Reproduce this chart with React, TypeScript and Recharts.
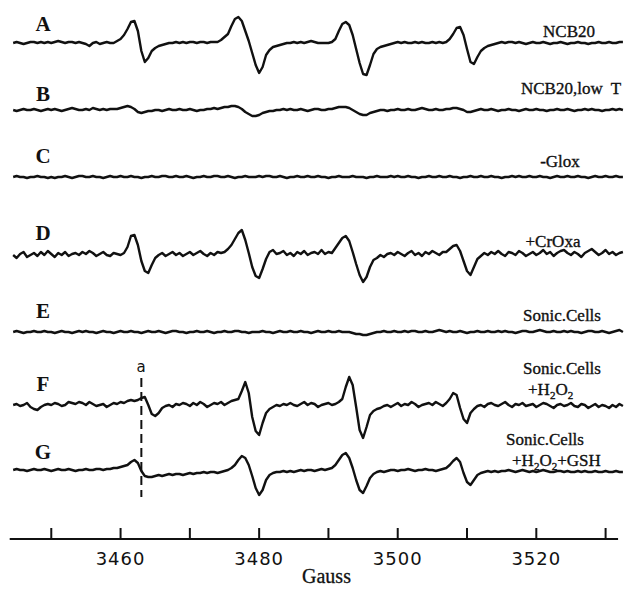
import { ComposedChart, Line, XAxis, YAxis, ReferenceLine } from "recharts";

// field sweep: 3444.5 G .. 3532.5 G, every 0.5 G (177 points)
const FIELD_START = 3444.5;
const FIELD_STEP = 0.5;

// ESR amplitude (px units, up = positive), 10 samples per 5 G
const TRACE_A = [
  0, 1, 0, -1, 0, 1, 1, 0, 1, 0,
  1, 0, 1, 2, 1, 0, 1, 1, 0, 1,
  0, -1, -3, 0, 1, -1, 0, 1, 0, 0,
  2, 4, 8, 14, 21, 22, 12, -8, -19, -15,
  -8, -5, -3, -2, -1, 0, 0, 1, 0, 1,
  0, 1, 1, 0, 1, 1, 0, 1, 1, 1,
  3, 6, 9, 17, 24, 26, 22, 12, 2, -10,
  -22, -30, -24, -12, -7, -4, -3, -2, -1, 0,
  0, 1, 0, 1, 0, 1, 2, 1, 0, 0,
  0, 0, 1, 4, 12, 19, 21, 18, 8, -6,
  -20, -31, -32, -22, -11, -6, -4, -3, -2, -1,
  0, 1, 0, 1, 0, 0, 1, 0, 1, 0,
  0, 1, 0, 1, 0, 1, 4, 9, 15, 16,
  8, -6, -19, -21, -14, -8, -5, -3, -2, -1,
  0, 1, 0, 1, 1, 0, 1, 0, -1, 0,
  1, 0, 0, 1, 0, -1, 0, 0, 1, 0,
  -1, 0, 0, 1, 0, 0, -1, 0, 0, 1,
  0, 0, 1, 0, 0, 1, 1,
];

const TRACE_B = [
  0, -1, 0, 1, 0, 0, 1, 0, -1, 0,
  1, 0, 1, 0, -1, 0, 1, 2, 1, 0,
  0, 1, 0, 2, 1, 0, 1, 0, 1, 1,
  1, 2, 3, 4, 3, 1, -2, -3, -2, -1,
  -1, 0, 0, -1, 0, 1, 0, 0, 1, 0,
  0, 1, 0, -1, 0, 0, 1, 1, 2, 1,
  2, 3, 3, 4, 4, 3, 1, -2, -4, -6,
  -6, -5, -3, -2, -1, -1, 0, 0, 1, 0,
  1, 0, 0, 1, 0, -1, 0, 1, 1, 0,
  0, 1, 1, 2, 3, 3, 3, 2, 0, -2,
  -4, -5, -5, -3, -2, -1, 0, 0, -1, 0,
  0, 1, 0, 0, 1, 0, 0, 1, 2, 1,
  0, 0, 1, 0, 0, 1, 1, 2, 2, 1,
  0, -2, -2, -1, 0, 1, 0, 0, 1, 0,
  -1, 0, 0, 1, 0, 0, -1, 0, 1, 0,
  0, 1, 0, 0, -1, 0, 0, 1, 0, 0,
  1, 0, -1, 0, 0, 1, 0, 1, 0, 0,
  -1, 0, 0, 1, 0, 1, 0,
];

const TRACE_C = [
  0, 1, 0, 0, -1, 0, 0, 1, 0, 0,
  -1, 0, -1, 0, 0, 1, 0, -1, 0, 1,
  1, 0, 0, 1, 0, 0, -1, 0, 1, 0,
  0, 1, 0, 0, 1, 0, 0, -1, 0, 0,
  1, 0, 0, 1, 1, 0, 0, 1, 0, 0,
  1, 0, -1, 0, 0, 1, 0, 0, 1, 1,
  0, 0, 1, 0, -1, 0, 0, 1, 0, 0,
  0, 1, 0, 1, 1, 0, 0, 1, 0, -1,
  0, 0, 1, 0, 0, 1, 0, 0, 1, 0,
  0, -1, 0, 0, 1, 0, 0, 0, 1, 0,
  0, 0, -1, 0, 0, 1, 0, 0, 0, 1,
  0, 1, 0, 0, 1, 0, 0, -1, 0, 0,
  1, 0, 0, 1, 0, 0, 1, 0, 0, -1,
  0, 0, 1, 0, 0, 1, 0, 0, 1, 0,
  0, -1, 0, 0, 1, 0, 1, 0, 0, 1,
  0, 0, 1, 0, 0, -1, 0, 1, 0, 0,
  1, 0, 0, 1, 0, 0, -1, 0, 1, 0,
  0, 1, 0, 0, 1, 0, 0,
];

const TRACE_D = [
  0, -3, 1, 3, -2, 0, 2, -1, 3, 0,
  4, 1, -2, 2, 0, 3, -1, 1, 2, 0,
  3, 1, 4, 2, -1, 1, 3, 0, -1, 2,
  1, 0, 2, 8, 19, 20, 10, -6, -16, -18,
  -10, -3, 0, 2, -1, 1, 3, 0, 2, -1,
  1, 3, 0, 2, 4, 1, -1, 2, 0, 3,
  2, 3, 6, 10, 16, 22, 25, 15, 2, -12,
  -21, -23, -14, -4, 3, 5, 1, 2, 4, 0,
  2, -1, 3, 1, 4, 0, 2, 3, 1, 5,
  1, 3, 2, 7, 12, 17, 19, 14, 3, -9,
  -20, -27, -22, -12, -5, -3, 0, -2, 1, 2,
  0, 3, 1, -1, 2, 4, 0, 2, -1, 3,
  1, 4, 2, 0, 3, 3, 6, 9, 10, 4,
  -6, -16, -20, -12, -4, -1, 2, 0, 3, 1,
  4, 1, -1, 3, 2, 0, 4, 2, -1, 1,
  3, 0, 2, 5, 1, 3, -1, 2, 4, 5,
  2, 0, 3, 1, -2, 2, 4, 6, 3, 0,
  2, 5, 1, 3, 0, 2, 3,
];

const TRACE_E = [
  0, 1, 0, -1, 0, 0, 1, 0, 0, 1,
  0, 0, -1, 0, 1, 0, 0, -1, 0, 1,
  0, 1, 0, 0, -1, 0, 1, 0, 0, -1,
  0, 1, 0, 0, 1, 0, 0, -1, 0, 1,
  0, 0, 1, 0, -1, 0, 1, 1, 0, 0,
  -1, 0, 0, 1, 0, 0, 1, 0, -1, 0,
  0, 1, 0, 0, 1, 1, 0, 0, -1, 0,
  0, 0, 1, 0, 0, -1, 0, 1, 0, 0,
  1, 0, 0, 1, 0, 0, -1, 0, 1, 0,
  0, 1, 0, 0, 1, 0, 0, 0, -1, -2,
  -2, -3, -3, -2, -1, 0, 0, 1, 0, 0,
  1, 0, 0, 1, 0, 1, 1, 0, 0, 1,
  0, 0, 1, 2, 1, 0, 1, 0, 0, 1,
  0, -1, 0, 0, 1, 0, 0, 1, 0, 0,
  1, 0, 1, 0, 0, -1, 0, 1, 1, 0,
  0, 1, 2, 1, 0, 0, 1, 0, 0, 1,
  0, 1, 0, 0, -1, 0, 1, 1, 0, 0,
  1, 0, -1, 0, 1, 2, 0,
];

const TRACE_F = [
  0, 1, -1, 0, 2, -2, -4, -5, -2, 0,
  1, 0, 2, 1, -1, 0, 3, 2, 1, 3,
  2, 0, 3, 1, -1, 0, 1, -2, 0, 2,
  1, 3, 2, 4, 5, 4, 5, 7, 8, 0,
  -9, -11, -8, -3, -1, 0, -2, 1, 0, 2,
  1, -1, 2, 0, 3, 1, -2, 0, 2, 1,
  3, 0, 2, 4, 5, 6, 14, 23, 12, -12,
  -26, -30, -18, -8, -4, -2, 0, -1, 1, 0,
  2, 0, -1, 1, 3, 0, 2, 1, -2, 0,
  1, 2, 0, 1, 3, 6, 18, 28, 20, -2,
  -25, -33, -22, -10, -6, -4, -3, -1, 0, -2,
  0, 2, -1, 1, 0, 3, 1, -2, 0, 1,
  2, 0, 3, 1, -1, 2, 6, 12, 10, -3,
  -14, -18, -8, -4, -1, 0, -2, 1, 2, 0,
  -1, 1, 3, 0, -2, 1, 0, 2, -1, 0,
  1, -2, 0, 2, 1, -1, -3, 0, 1, -1,
  0, 2, -1, -2, 1, 0, -3, -1, 1, -2,
  0, -1, -3, 0, -2, 1, -1,
];

const TRACE_G = [
  0, 1, 0, 0, -1, 0, 1, 0, 0, 1,
  0, -1, 0, 1, 0, 0, 1, 0, -1, 0,
  0, 1, 0, 0, 1, 1, 0, 1, 1, 2,
  2, 3, 4, 5, 8, 10, 7, -1, -6, -7,
  -7, -6, -5, -6, -5, -4, -5, -4, -4, -5,
  -4, -3, -4, -3, -3, -2, -3, -2, -2, -3,
  -2, -1, 0, 2, 5, 10, 14, 12, 5, -6,
  -18, -25, -20, -10, -5, -3, -2, -2, -1, -2,
  -1, -2, -1, 0, -1, 0, 0, -1, 0, 1,
  0, 1, 2, 5, 10, 15, 17, 12, 2, -10,
  -20, -23, -16, -8, -4, -2, -1, -2, -1, 0,
  0, -1, 0, 0, 1, 0, -1, 0, 0, 1,
  0, 0, -1, 0, 1, 2, 5, 9, 12, 8,
  -3, -12, -15, -10, -5, -3, -2, -1, -2, -1,
  -2, -1, -1, 0, -1, -2, -1, 0, -1, -2,
  -1, -2, -1, 0, -1, -2, -2, -1, -1, -2,
  -1, -2, -2, -1, -2, -1, -2, -2, -1, -2,
  -2, -1, -2, -2, -1, -2, -2,
];

const SERIES = ["A", "B", "C", "D", "E", "F", "G"];
const TRACES = [TRACE_A, TRACE_B, TRACE_C, TRACE_D, TRACE_E, TRACE_F, TRACE_G];

const TICKS = [3450, 3460, 3470, 3480, 3490, 3500, 3510, 3520, 3530];
const TICK_LABELS = [3460, 3480, 3500, 3520];
const MARKER_A = 3463;

// layout
const W = 625;
const H = 589;
const AXIS_H = 50;
const PLOT_H = H - AXIS_H;
const X_DOMAIN = [3442.6, 3532.8];
const BASELINES = [43, 110, 177, 255, 332, 405, 470]; // px from top, per trace
const LETTER_Y = [31, 101, 163, 240, 318, 391, 459];

const rows = TRACE_A.map((_, i) => {
  const row: any = { g: FIELD_START + i * FIELD_STEP };
  SERIES.forEach((s, k) => {
    row[s] = PLOT_H - BASELINES[k] + TRACES[k][i];
  });
  return row;
});

const serif = "'Liberation Serif', 'Times New Roman', serif";

const GaussTick = ({ x, y, payload }: any) => (
  <g>
    <line x1={x} x2={x} y1={y - 11} y2={y} stroke="#111" strokeWidth={2} />
    {TICK_LABELS.includes(payload.value) && (
      <text
        x={x}
        y={y + 26}
        textAnchor="middle"
        fontFamily="'DejaVu Sans', sans-serif"
        fontSize={18}
        letterSpacing={1}
        fill="#111"
      >
        {payload.value}
      </text>
    )}
  </g>
);

const Sub = ({ children }: any) => (
  <tspan fontSize={11} dy={4}>
    {children}
  </tspan>
);
const Up = ({ children }: any) => <tspan dy={-4}>{children}</tspan>;

export default function App() {
  return (
    <div style={{ position: "absolute", left: 0, top: 0, width: W, height: H, background: "#fff" }}>
      <ComposedChart width={W} height={H} data={rows} margin={{ top: 0, right: 0, left: 0, bottom: 0 }}>
        <XAxis
          dataKey="g"
          type="number"
          domain={X_DOMAIN}
          allowDataOverflow
          ticks={TICKS}
          interval={0}
          height={AXIS_H}
          axisLine={false}
          tickLine={false}
          tickSize={0}
          tickMargin={0}
          tick={<GaussTick />}
          label={{
            value: "Gauss",
            position: "insideBottom",
            offset: 6,
            dx: 14,
            style: { fontFamily: serif, fontSize: 20, fill: "#111", stroke: "#111", strokeWidth: 0.3 },
          }}
        />
        <YAxis hide type="number" domain={[0, PLOT_H]} allowDataOverflow />
        <ReferenceLine
          segment={[{ x: 3444, y: 0 }, { x: 3531.8, y: 0 }]}
          stroke="#111"
          strokeWidth={2.2}
          ifOverflow="visible"
        />
        <ReferenceLine
          segment={[{ x: MARKER_A, y: PLOT_H - 378 }, { x: MARKER_A, y: PLOT_H - 497 }]}
          stroke="#111"
          strokeWidth={2}
          strokeDasharray="9 5"
          ifOverflow="visible"
        />
        {SERIES.map((s) => (
          <Line
            key={s}
            dataKey={s}
            type="linear"
            stroke="#111"
            strokeWidth={2.4}
            strokeLinejoin="round"
            dot={false}
            activeDot={false}
            isAnimationActive={false}
          />
        ))}
      </ComposedChart>

      <svg
        width={W}
        height={H}
        style={{ position: "absolute", left: 0, top: 0, pointerEvents: "none" }}
      >
        <g fontFamily={serif} fontWeight="bold" fontSize={21} fill="#111" textAnchor="middle">
          {SERIES.map((s, k) => (
            <text key={s} x={43} y={LETTER_Y[k]}>
              {s}
            </text>
          ))}
        </g>
        <g fontFamily={serif} fontSize={17} fill="#111" stroke="#111" strokeWidth={0.35}>
          <text x={569} y={37} textAnchor="middle">NCB20</text>
          <text x={521} y={94}>
            NCB20,low<tspan dx={8}>T</tspan>
          </text>
          <text x={560} y={167} textAnchor="middle">-Glox</text>
          <text x={553} y={247} textAnchor="middle">+CrOxa</text>
          <text x={562} y={321} textAnchor="middle">Sonic.Cells</text>
          <text x={562} y={374} textAnchor="middle">Sonic.Cells</text>
          <text x={528} y={395}>
            +H<Sub>2</Sub>
            <Up>O</Up>
            <Sub>2</Sub>
          </text>
          <text x={545} y={445} textAnchor="middle">Sonic.Cells</text>
          <text x={512} y={466}>
            +H<Sub>2</Sub>
            <Up>O</Up>
            <Sub>2</Sub>
            <Up>+GSH</Up>
          </text>
        </g>
        <text x={141} y={372} textAnchor="middle" fontFamily="'DejaVu Sans', sans-serif" fontSize={15} fill="#111">
          a
        </text>
      </svg>
    </div>
  );
}
